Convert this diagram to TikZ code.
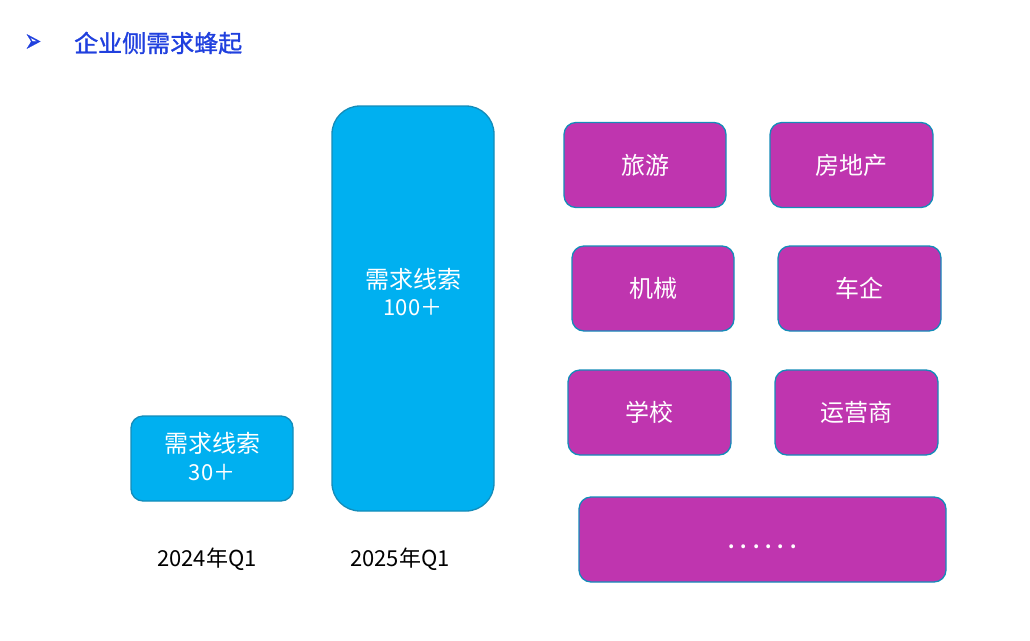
\documentclass[tikz,border=0pt]{standalone}
\usepackage{fontspec}
\setmainfont{Noto Sans CJK SC}
\newfontfamily\titlefont{Noto Sans CJK SC}[FakeBold=1.2]
\newfontfamily\symfont{DejaVu Sans}[FakeBold=1]
\definecolor{titleblue}{RGB}{32,64,222}
\definecolor{barblue}{RGB}{0,176,240}
\definecolor{edgeblue}{RGB}{20,140,185}
\definecolor{magbox}{RGB}{191,53,175}
\tikzset{
  bar/.style={draw=edgeblue, fill=barblue, line width=1.3pt, minimum width=162pt, inner sep=0pt},
  catbox/.style={draw=edgeblue, fill=magbox, line width=1.3pt, rounded corners=12pt, minimum height=85pt, inner sep=0pt, text=white, font=\fontsize{24}{28}\selectfont},
  bartext/.style={text=white, align=center, inner sep=0pt, font=\fontsize{24}{30}\selectfont},
  numtext/.style={text=white, align=center, inner sep=0pt, font=\fontsize{22}{30}\selectfont},
  yearlabel/.style={text=black, inner sep=0pt, font=\fontsize{22}{24}\selectfont}
}
\begin{document}
\begin{tikzpicture}[x=1pt,y=-1pt]
\useasboundingbox (0,0) rectangle (1030,640);
% title
\node[text=titleblue, inner sep=0pt, xscale=0.7, yscale=1.15, font=\symfont\fontsize{28}{30}\selectfont] (arrow) at (33,43) {➢};
\node[text=titleblue, inner sep=0pt, anchor=west, font=\titlefont\fontsize{24}{26}\selectfont] (title) at (74,43) {企业侧需求蜂起};
% bars
\node[bar, rounded corners=12pt, minimum height=85pt] (bar24) at (212,458.5) {};
\node[bar, rounded corners=28pt, minimum height=405pt] (bar25) at (413,308.5) {};
\node[bartext] (t24a) at (212,443) {需求线索};
\node[numtext] (t24b) at (212,473) {30＋};
\node[bartext] (t25a) at (413,279) {需求线索};
\node[numtext] (t25b) at (413,308) {100＋};
\node[yearlabel] (y24) at (207,559) {2024年Q1};
\node[yearlabel] (y25) at (400,559) {2025年Q1};
% categories
\node[catbox, minimum width=162pt] (lvyou) at (645,165) {旅游};
\node[catbox, minimum width=163pt] (fangdichan) at (851.5,165) {房地产};
\node[catbox, minimum width=162pt] (jixie) at (653,288.5) {机械};
\node[catbox, minimum width=163pt] (cheqi) at (859.5,288.5) {车企};
\node[catbox, minimum width=163pt] (xuexiao) at (649.5,412.5) {学校};
\node[catbox, minimum width=163pt] (yunying) at (856.5,412.5) {运营商};
\node[catbox, minimum width=367pt] (more) at (762.5,539.5) {};
\node[text=white, inner sep=0pt, font=\bfseries\fontsize{18}{20}\selectfont] (dots) at (762.5,547) {.\hspace{6pt}.\hspace{6pt}.\hspace{6pt}.\hspace{6pt}.\hspace{6pt}.};
\end{tikzpicture}
\end{document}
